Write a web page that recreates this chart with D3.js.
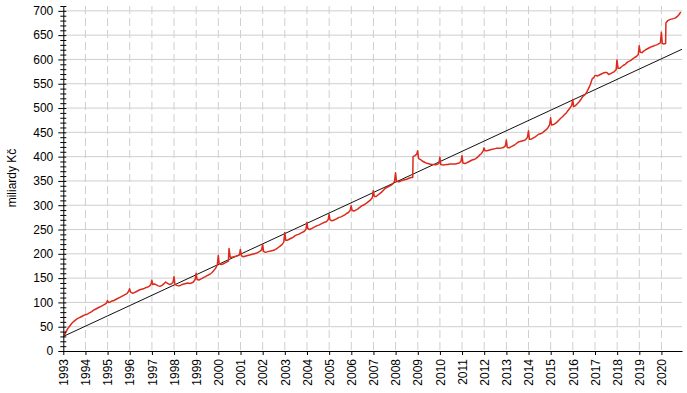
<!DOCTYPE html>
<html>
<head>
<meta charset="utf-8">
<script src="https://cdn.jsdelivr.net/npm/d3@7"></script>
<style>
  body { margin: 0; background: #fff; }
  text { font-family: Arial, "Liberation Sans", sans-serif; }
</style>
</head>
<body>
<svg width="687" height="393"></svg>
<script>
// monthly level, mid-month values (mld. Kč), Jan 1993 .. Nov 2020
const monthly = [
  32, 40, 46, 51, 56, 60, 63, 66, 68, 70, 72, 74,            // 1993
  75, 77, 79, 81, 84, 86, 88, 90, 92, 94, 96, 99,            // 1994
  100, 101, 103, 104, 106, 108, 110, 112, 114, 116, 118, 123, // 1995
  121, 119, 120, 122, 124, 126, 127, 128, 130, 131, 133, 137, // 1996
  137, 138, 136, 134, 133, 135, 138, 142, 139, 137, 138, 141, // 1997
  137, 135, 134, 135, 137, 138, 139, 140, 139, 140, 142, 147, // 1998
  147, 146, 148, 150, 152, 154, 156, 158, 161, 165, 170, 177, // 1999
  180, 178, 179, 181, 183, 185, 193, 193, 194, 195, 196, 198, // 2000
  196, 194, 195, 196, 197, 198, 199, 200, 201, 203, 205, 208, // 2001
  205, 203, 204, 205, 206, 207, 208, 210, 213, 216, 219, 224, // 2002
  228, 228, 230, 232, 234, 237, 239, 240, 242, 244, 246, 250, // 2003
  252, 250, 252, 254, 256, 258, 259, 261, 263, 265, 266, 270, // 2004
  270, 268, 269, 271, 273, 275, 276, 278, 280, 283, 285, 290, // 2005
  289, 288, 290, 292, 295, 298, 300, 302, 305, 308, 311, 316, // 2006
  318, 318, 321, 324, 327, 331, 335, 337, 339, 341, 344, 349, // 2007
  350, 348, 349, 351, 352, 353, 354, 356, 357, 400, 402, 405, // 2008
  396, 394, 391, 389, 387, 386, 385, 384, 384, 383, 384, 386, // 2009
  384, 383, 383, 384, 384, 385, 385, 385, 385, 386, 387, 390, // 2010
  387, 386, 387, 389, 391, 393, 394, 396, 399, 403, 406, 412, // 2011
  412, 412, 413, 414, 415, 416, 417, 417, 417, 418, 419, 422, // 2012
  419, 418, 420, 422, 424, 427, 430, 431, 432, 433, 435, 440, // 2013
  436, 436, 438, 440, 443, 446, 447, 449, 452, 455, 459, 466, // 2014
  465, 466, 468, 471, 475, 479, 482, 486, 490, 495, 500, 506, // 2015
  503, 505, 509, 513, 518, 524, 527, 532, 540, 548, 560, 563, // 2016
  567, 566, 568, 570, 572, 573, 573, 569, 571, 573, 575, 579, // 2017
  582, 582, 585, 588, 590, 594, 596, 598, 601, 604, 606, 610, // 2018
  615, 614, 617, 620, 622, 624, 626, 627, 629, 630, 632, 634, // 2019
  633, 632, 675, 680, 682, 683, 684, 685, 688, 692, 698       // 2020
]
const firstMonth = '1993-01-15'

// short peaks (mostly end of year) and the two jumps
const eventDates = [
  '1994-12-30', '1995-12-29', '1996-12-31', '1997-12-31', '1998-12-31',
  '1999-12-31', '2000-06-25', '2000-12-29', '2001-12-31', '2002-12-31',
  '2003-12-31', '2004-12-31', '2005-12-30', '2006-12-29', '2007-12-31',
  '2008-10-10', '2008-12-30', '2009-12-31', '2010-12-31', '2011-12-30',
  '2012-12-31', '2013-12-31', '2014-12-31', '2015-12-31', '2016-12-30',
  '2017-12-29', '2018-12-31', '2019-12-31', '2020-03-10'
]
const eventValues = [
  104, 128, 146, 153, 160,
  197, 211, 209, 220, 244,
  265, 281, 299, 330, 367,
  357, 412, 399, 402, 418,
  434, 453, 480, 518, 567,
  599, 628, 656, 633
]

// linear trend
const trendDates = ['1993-01-01', '2020-12-05']
const trendValues = [30, 621]

const yearTicks = d3.range(1993, 2021)
const yMajor = d3.range(0, 701, 50)
const yMinor = d3.range(0, 711, 10).filter(v => v % 50 !== 0)

const parse = d3.timeParse('%Y-%m-%d')

const svg = d3.select('svg')
const plotLeft = 63.3, plotRight = 682, plotTop = 6, plotBottom = 351

const x = d3.scaleTime()
    .domain([new Date(1993, 0, 1), new Date(2020, 11, 5)])
    .range([plotLeft, plotRight])
const y = d3.scaleLinear()
    .domain([0, 710])
    .range([plotBottom, plotTop])

// build series
let series = monthly.map((v, i) => {
    let d = parse(firstMonth)
    return { date: new Date(d.getFullYear(), d.getMonth() + i, 15), value: v }
})
eventDates.forEach((s, i) => series.push({ date: parse(s), value: eventValues[i] }))
series.sort((a, b) => a.date - b.date)

// grid
svg.append('g')
    .selectAll('line')
    .data(yMajor.filter(v => v > 0))
    .enter().append('line')
    .attr('x1', plotLeft).attr('x2', plotRight)
    .attr('y1', d => y(d)).attr('y2', d => y(d))
    .attr('stroke', '#cfcfcf')
    .attr('stroke-width', 1)

svg.append('g')
    .selectAll('line')
    .data(yearTicks.filter(v => v > 1993))
    .enter().append('line')
    .attr('x1', d => x(new Date(d, 0, 1))).attr('x2', d => x(new Date(d, 0, 1)))
    .attr('y1', plotTop).attr('y2', plotBottom)
    .attr('stroke', '#cfcfcf')
    .attr('stroke-width', 1)
    .attr('stroke-dasharray', '8,4')

// trend
svg.append('path')
    .datum(trendDates.map((s, i) => ({ date: parse(s), value: trendValues[i] })))
    .attr('fill', 'none')
    .attr('stroke', '#111')
    .attr('stroke-width', 1)
    .attr('d', d3.line().x(d => x(d.date)).y(d => y(d.value)))

// series
svg.append('path')
    .datum(series)
    .attr('fill', 'none')
    .attr('stroke', '#dd2a1b')
    .attr('stroke-width', 1.5)
    .attr('stroke-linejoin', 'round')
    .attr('d', d3.line().x(d => x(d.date)).y(d => y(d.value)))

// y axis
const yAxis = svg.append('g')
    .attr('transform', `translate(${plotLeft},0)`)
    .call(d3.axisLeft(y).tickValues(yMajor).tickSize(5).tickSizeOuter(0).tickPadding(5))
yAxis.selectAll('text').style('font-size', '12px').attr('fill', '#000')
yAxis.select('.domain').attr('stroke', '#000')

svg.append('g')
    .attr('transform', `translate(${plotLeft},0)`)
    .call(d3.axisLeft(y).tickValues(yMinor).tickSize(3).tickFormat(''))
    .call(g => g.select('.domain').remove())
svg.append('g')
    .attr('transform', `translate(${plotLeft},0)`)
    .call(d3.axisRight(y).tickValues(yMajor.concat(yMinor)).tickSize(3).tickFormat(''))
    .call(g => g.select('.domain').remove())

// x axis
const xAxis = svg.append('g')
    .attr('transform', `translate(0,${plotBottom})`)
    .call(d3.axisBottom(x)
        .tickValues(yearTicks.map(yr => new Date(yr, 0, 1)))
        .tickFormat(d3.timeFormat('%Y'))
        .tickSize(4)
        .tickSizeOuter(0))
xAxis.select('.domain').attr('stroke', '#000')
xAxis.selectAll('text')
    .style('font-size', '12px')
    .attr('fill', '#000')
    .attr('x', -8)
    .attr('y', 0)
    .attr('dy', '0.35em')
    .attr('transform', 'rotate(-90)')
    .style('text-anchor', 'end')

// y label
svg.append('text')
    .attr('transform', 'translate(12,178) rotate(-90)')
    .attr('text-anchor', 'middle')
    .attr('dy', '0.35em')
    .style('font-size', '12px')
    .text('miliardy Kč')
</script>
</body>
</html>
